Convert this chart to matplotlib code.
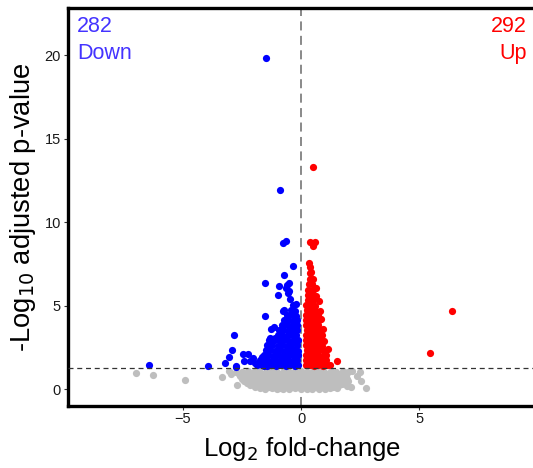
"""Volcano plot: down / up regulated genes."""
import matplotlib
matplotlib.use('Agg')
import matplotlib.pyplot as plt

plt.rcParams['font.family'] = ['Liberation Sans', 'DejaVu Sans']

# ── data (log2 fold-change, -log10 adjusted p-value) ──────────────────────
ns_lfc = [-6.98, -6.26, -4.92, -3.36, -2.95, -2.72,
          -3.05, -2.74, -2.48, -2.23, -1.98, -1.76, -1.49, -1.27, -1.02, -0.74, -0.51, -0.26, 0.02, 0.24, 0.51, 0.77, 0.98, 1.26, 1.49, 1.77, 1.98, 2.17, 2.5,
          -2.62, -2.37, -2.11, -1.87, -1.63, -1.36, -1.13, -0.87, -0.63, -0.38, -0.12, 0.13, 0.37, 0.62, 0.88, 1.13, 1.38, 1.62, 1.86,
          -2.58, -2.33, -2.12, -1.84, -1.61, -1.33, -1.12, -0.86, -0.58, -0.36, -0.08, 0.16, 0.38, 0.66, 0.89, 1.16, 1.41, 1.63, 1.91, 2.38,
          -2.49, -2.27, -2.03, -1.77, -1.53, -1.29, -1.03, -0.79, -0.53, -0.29, -0.04, 0.21, 0.46, 0.71, 0.96, 1.21, 1.45, 1.71, 1.93,
          -2.43, -2.21, -1.93, -1.72, -1.44, -1.22, -0.93, -0.71, -0.44, -0.18, 0.06, 0.31, 0.53, 0.81, 1.04, 1.32, 1.56, 1.79, 2.0, 2.53,
          -2.28, -2.03, -1.79, -1.53, -1.27, -1.03, -0.78, -0.53, -0.28, -0.03, 0.22, 0.47, 0.72, 0.97, 1.22, 1.47, 1.72,
          -2.16, -1.88, -1.66, -1.38, -1.16, -0.88, -0.66, -0.41, -0.13, 0.11, 0.34, 0.61, 0.84, 1.12, 1.33, 1.62, 1.93, 2.12, 2.75,
          -1.96, -1.63, -1.37, -1.12, -0.87, -0.63, -0.37, -0.12, 0.13, 0.37, 0.63, 0.87, 1.12, 1.37,
          -1.74, -1.51, -1.23, -1.01, -0.77, -0.49, -0.24, 0.01, 0.27, 0.48, 0.76, 1.01, 1.24, 1.51]
ns_padj = [1.0, 0.88, 0.58, 0.72, 0.95, 0.24,
           1.08, 1.02, 1.06, 1.1, 1.04, 1.09, 1.03, 1.1, 1.06, 1.1, 1.05, 1.09, 1.1, 1.04, 1.08, 1.1, 1.05, 1.09, 1.04, 1.08, 1.06, 1.13, 1.03,
           0.92, 0.89, 0.93, 0.9, 0.94, 0.88, 0.92, 0.9, 0.93, 0.89, 0.92, 0.9, 0.94, 0.88, 0.91, 0.93, 0.89, 0.92, 0.9,
           0.78, 0.72, 0.8, 0.74, 0.79, 0.71, 0.77, 0.8, 0.73, 0.78, 0.75, 0.8, 0.72, 0.77, 0.74, 0.79, 0.71, 0.76, 0.8, 0.82,
           0.63, 0.6, 0.64, 0.61, 0.65, 0.6, 0.63, 0.61, 0.64, 0.6, 0.62, 0.65, 0.61, 0.63, 0.6, 0.64, 0.62, 0.61, 0.64,
           0.5, 0.46, 0.52, 0.47, 0.53, 0.45, 0.5, 0.44, 0.51, 0.47, 0.52, 0.46, 0.5, 0.45, 0.53, 0.48, 0.51, 0.46, 0.53, 0.53,
           0.37, 0.35, 0.38, 0.34, 0.37, 0.35, 0.36, 0.38, 0.34, 0.36, 0.37, 0.35, 0.38, 0.34, 0.36, 0.35, 0.33,
           0.24, 0.28, 0.22, 0.27, 0.21, 0.26, 0.23, 0.28, 0.21, 0.25, 0.22, 0.27, 0.23, 0.26, 0.2, 0.24, 0.2, 0.16, 0.1,
           0.14, 0.12, 0.15, 0.13, 0.11, 0.14, 0.12, 0.15, 0.13, 0.11, 0.14, 0.12, 0.15, 0.13,
           0.06, 0.03, 0.07, 0.02, 0.05, 0.01, 0.06, 0.02, 0.04, 0.01, 0.05, 0.03, 0.07, 0.1]

down_lfc = [-1.48, -0.88, -6.45, -3.95, -2.85, -2.92, -3.04, -3.22, -2.77, -1.54, -1.54,
            -0.78, -0.64, -0.35, -0.71, -0.93, -0.61, -0.96, -0.5, -0.47, -0.75, -1.28, -1.14, -1.31, -1.1,
            -2.47, -2.23, -2.05, -1.64, -2.16, -2.42, -1.95, -1.74, -1.6, -1.57, -2.75, -0.62, -0.56, -0.5,
            -1.85, -1.66, -1.44, -1.26, -1.05, -0.86, -0.64, -0.45, -0.26, -0.13,
            -1.74, -1.53, -1.36, -1.14, -0.95, -0.74, -0.56, -0.34, -0.16,
            -1.58, -1.41, -1.19, -1.01, -0.79, -0.61, -0.39, -0.21, -0.11,
            -1.49, -1.31, -1.09, -0.91, -0.69, -0.51, -0.29, -0.14,
            -1.42, -1.21, -0.99, -0.81, -0.59, -0.41, -0.19,
            -1.34, -1.11, -0.89, -0.71, -0.49, -0.31, -0.12,
            -0.99, -0.79, -0.61, -0.39, -0.21,
            -0.94, -0.76, -0.54, -0.36, -0.16,
            -0.81, -0.59, -0.41, -0.19,
            -0.74, -0.56, -0.34, -0.16,
            -0.61, -0.39, -0.21,
            -0.73, -0.44, -0.26,
            -0.34, -0.2]
down_padj = [19.82, 11.92, 1.44, 1.4, 3.25, 2.34, 1.93, 1.56, 1.4, 6.39, 4.39,
             8.76, 8.86, 7.37, 6.87, 6.21, 6.25, 5.67, 5.89, 5.39, 4.69, 3.63, 3.75, 3.1, 3.1,
             2.14, 2.1, 1.9, 1.93, 1.69, 1.69, 1.6, 1.6, 1.9, 1.4, 1.34, 6.1, 5.8, 6.35,
             1.44, 1.47, 1.43, 1.46, 1.42, 1.45, 1.43, 1.47, 1.42, 1.45,
             1.74, 1.77, 1.72, 1.76, 1.73, 1.78, 1.74, 1.71, 1.76,
             2.04, 2.07, 2.02, 2.06, 2.03, 2.08, 2.04, 2.01, 2.06,
             2.34, 2.37, 2.32, 2.36, 2.33, 2.38, 2.34, 2.31,
             2.64, 2.67, 2.62, 2.66, 2.63, 2.68, 2.64,
             2.94, 2.97, 2.92, 2.96, 2.93, 2.98, 2.94,
             3.24, 3.27, 3.22, 3.26, 3.23,
             3.54, 3.57, 3.52, 3.56, 3.53,
             3.84, 3.87, 3.82, 3.86,
             4.14, 4.17, 4.12, 4.16,
             4.44, 4.47, 4.42,
             4.74, 4.77, 4.72,
             5.08, 5.12]

up_lfc = [0.52, 6.4, 5.47, 1.51, 1.16, 0.38, 0.59, 0.52,
          0.21, 0.38, 0.57, 0.74, 0.92, 1.09, 1.24,
          0.23, 0.41, 0.58, 0.76, 0.93, 1.07,
          0.2, 0.37, 0.56, 0.74, 0.91, 1.04,
          0.24, 0.42, 0.61, 0.78, 0.96,
          0.21, 0.38, 0.56, 0.74, 0.89,
          0.22, 0.4, 0.58, 0.76, 0.97,
          0.2, 0.39, 0.56, 0.73, 0.87,
          0.24, 0.42, 0.6, 0.78, 0.92,
          0.21, 0.38, 0.56, 0.74,
          0.22, 0.4, 0.58, 0.76, 0.86,
          0.2, 0.38, 0.56, 0.72,
          0.24, 0.42, 0.6, 0.82,
          0.22, 0.4, 0.58,
          0.3, 0.5, 0.77,
          0.28, 0.46, 0.63,
          0.31, 0.49, 0.64,
          0.33, 0.48,
          0.36, 0.5,
          0.38, 0.43,
          0.36, 0.34]
up_padj = [13.29, 4.67, 2.16, 1.69, 2.4, 8.82, 8.82, 8.58,
           1.44, 1.47, 1.43, 1.46, 1.42, 1.45, 1.47,
           1.74, 1.77, 1.72, 1.76, 1.73, 1.78,
           2.04, 2.07, 2.02, 2.06, 2.03, 2.08,
           2.34, 2.37, 2.32, 2.36, 2.33,
           2.64, 2.67, 2.62, 2.66, 2.63,
           2.94, 2.97, 2.92, 2.96, 2.93,
           3.24, 3.27, 3.22, 3.26, 3.23,
           3.54, 3.57, 3.52, 3.56, 3.59,
           3.84, 3.87, 3.82, 3.86,
           4.14, 4.17, 4.12, 4.16, 4.19,
           4.44, 4.47, 4.42, 4.46,
           4.74, 4.77, 4.72, 4.69,
           5.04, 5.07, 5.02,
           5.34, 5.37, 5.29,
           5.64, 5.67, 5.62,
           5.94, 5.97, 6.09,
           6.3, 6.33,
           6.6, 6.63,
           6.99, 7.02,
           7.3, 7.59]

n_down = 282
n_up = 292
padj_cut = 1.30

C_DOWN = '#0000ff'
C_UP = '#ff0000'
C_NS = '#bebebe'
PT = 27

fig = plt.figure(figsize=(5.33, 4.68), dpi=100)
ax = fig.add_axes([0.1276, 0.1335, 0.877, 0.8485])

ax.axvline(0, color='#808080', lw=1.3, ls=(0, (5, 3)), zorder=1)
ax.scatter(ns_lfc, ns_padj, s=PT, c=C_NS, linewidths=0, zorder=2)
ax.scatter(down_lfc, down_padj, s=PT, c=C_DOWN, linewidths=0, zorder=3)
ax.scatter(up_lfc, up_padj, s=PT, c=C_UP, linewidths=0, zorder=3)
ax.axhline(padj_cut, color='#333333', lw=0.9, ls=(0, (4, 3)), zorder=4)

ax.set_xlim(-9.87, 9.93)
ax.set_ylim(-0.96, 22.8)
ax.set_xticks([-5, 0, 5])
ax.set_xticklabels(['\u22125', '0', '5'])
ax.set_yticks([0, 5, 10, 15, 20])

for side in ['left', 'top', 'bottom']:
    ax.spines[side].set_linewidth(2.4)
    ax.spines[side].set_color('black')
ax.spines['right'].set_visible(False)
ax.tick_params(length=3, width=0.8, color='#333333', labelsize=10.5,
               labelcolor='#1a1a1a', pad=2)

ax.set_xlabel('Log$_2$ fold-change', fontsize=18.5, labelpad=6)
ax.set_ylabel('-Log$_{10}$ adjusted p-value', fontsize=19.7, labelpad=5)

ax.text(0.02, 0.981, f'{n_down}\nDown', transform=ax.transAxes,
        ha='left', va='top', fontsize=15.5, color='#4433ff', linespacing=1.4)
ax.text(0.982, 0.981, f'{n_up}\nUp', transform=ax.transAxes,
        ha='right', va='top', fontsize=15.5, color=C_UP, linespacing=1.4,
        multialignment='right')

fig.savefig('out.png', dpi=100)
